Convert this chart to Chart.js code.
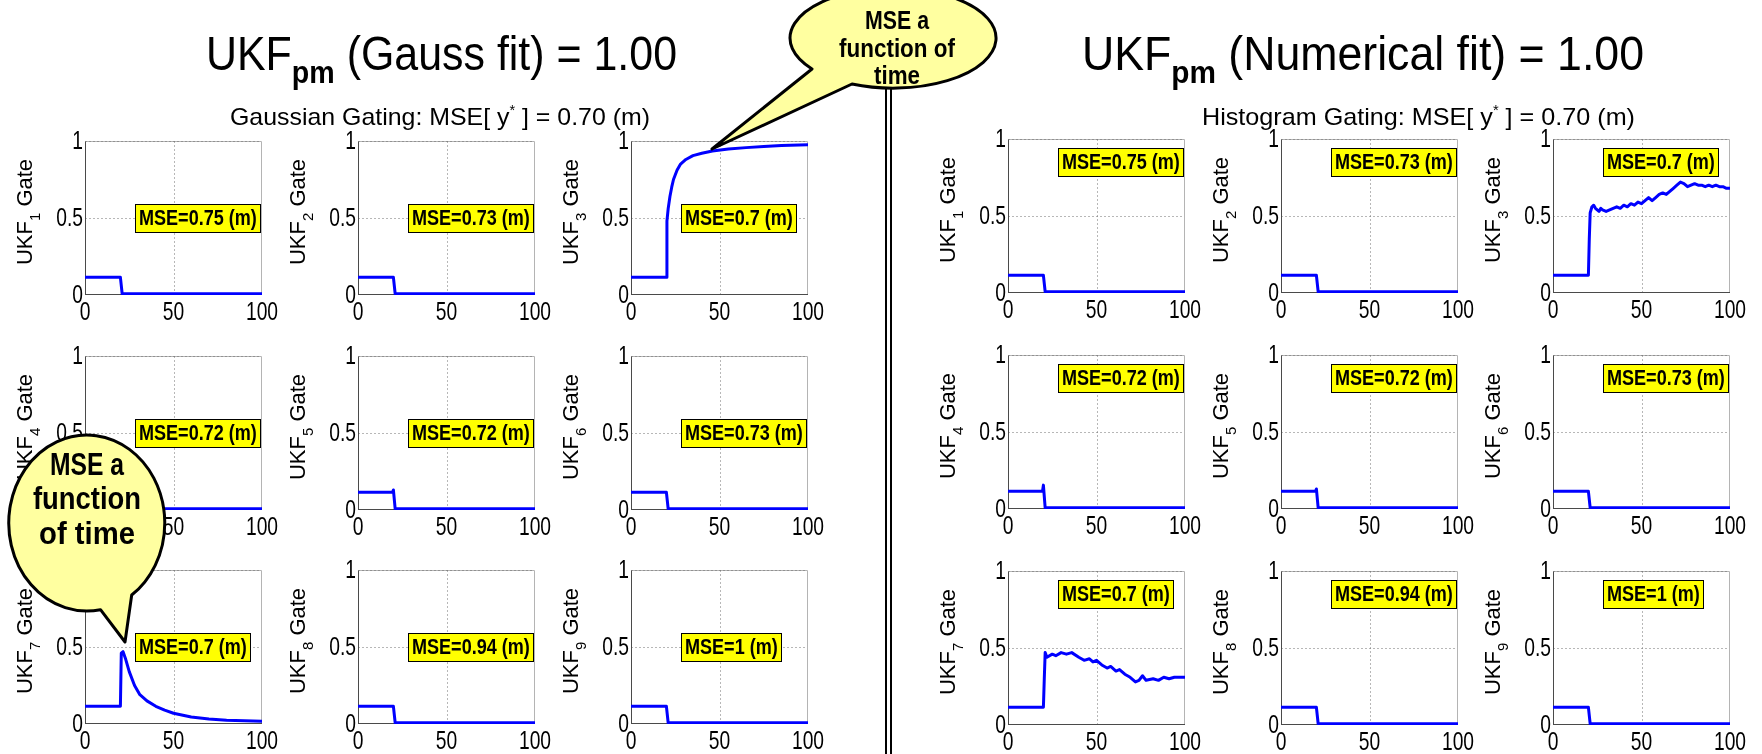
<!DOCTYPE html>
<html><head><meta charset="utf-8">
<script src="https://cdn.jsdelivr.net/npm/chart.js@4.4.1/dist/chart.umd.min.js"></script>
<style>
html,body{margin:0;padding:0;background:#fff}
body{width:1762px;height:754px;position:relative;overflow:hidden;font-family:'Liberation Sans',Arial,sans-serif}
canvas.sub{position:absolute}
svg.ov{position:absolute;left:0;top:0;z-index:5}
</style></head><body>
<script>
// ---------- data ----------
const X_TICKS=[0,50,100];
const Y_TICKS=[0,0.5,1];
const MSE_GAUSS=['0.75','0.73','0.7','0.72','0.72','0.73','0.7','0.94','1'];
const MSE_NUM=['0.75','0.73','0.7','0.72','0.72','0.73','0.7','0.94','1'];

// gate that switches off at t=20
const STEP_X=[0,20,21,100];
const STEP_Y=[0.115,0.115,0.008,0.008];
// gate with a small bump before switching off
const BUMP_X=[0,19.5,20,21,100];
const BUMP_Y=[0.115,0.115,0.13,0.008,0.008];
const BUMP2_Y=[0.115,0.115,0.155,0.008,0.008];

// Gaussian gating: UKF3 and UKF7
const G3_X=[0,20,20.3,21,22,23,24,26,28,31,35,40,46,55,65,75,85,100];
const G3_Y=[0.115,0.115,0.48,0.56,0.64,0.7,0.75,0.81,0.85,0.88,0.905,0.92,0.935,0.948,0.957,0.964,0.97,0.976];
const G7_X=[0,20,20.5,21.5,23,25,28,31,35,40,45,50,60,70,80,90,100];
const G7_Y=[0.115,0.115,0.46,0.47,0.42,0.34,0.25,0.19,0.15,0.115,0.09,0.07,0.045,0.032,0.025,0.021,0.018];

// Histogram (numerical) gating: UKF3 and UKF7
const N3_X=[0,20,20.5,21,22,23,24,25,26,27,28,30,32,34,36,38,40,42,44,46,48,50,52,54,56,58,60,62,64,66,68,70,72,74,76,78,80,82,84,86,88,90,92,94,96,98,100];
const N3_Y=[0.115,0.115,0.35,0.52,0.56,0.57,0.55,0.54,0.53,0.55,0.54,0.53,0.54,0.55,0.56,0.55,0.57,0.56,0.58,0.57,0.59,0.58,0.6,0.62,0.6,0.62,0.64,0.65,0.64,0.66,0.68,0.7,0.72,0.71,0.69,0.7,0.71,0.7,0.7,0.69,0.7,0.69,0.7,0.69,0.69,0.68,0.68];
const N7_X=[0,20,20.5,21,22,25,27,30,33,36,40,43,46,48,50,53,56,58,61,63,66,69,72,74,76,78,82,85,88,91,94,100];
const N7_Y=[0.115,0.115,0.3,0.47,0.44,0.46,0.45,0.47,0.46,0.47,0.44,0.42,0.43,0.41,0.42,0.39,0.37,0.38,0.35,0.36,0.33,0.31,0.28,0.29,0.32,0.29,0.3,0.29,0.31,0.3,0.31,0.31];

const GAUSS_SERIES=[[STEP_X,STEP_Y],[STEP_X,STEP_Y],[G3_X,G3_Y],[STEP_X,STEP_Y],[BUMP_X,BUMP_Y],[STEP_X,STEP_Y],[G7_X,G7_Y],[STEP_X,STEP_Y],[STEP_X,STEP_Y]];
const NUM_SERIES=[[STEP_X,STEP_Y],[STEP_X,STEP_Y],[N3_X,N3_Y],[BUMP_X,BUMP2_Y],[BUMP_X,BUMP_Y],[STEP_X,STEP_Y],[N7_X,N7_Y],[STEP_X,STEP_Y],[STEP_X,STEP_Y]];

// ---------- layout ----------
const PAD_L=85, PAD_T=20, PAD_R=25, PAD_B=36, PW=177, PH=154;
const CW=PAD_L+PW+PAD_R, CH=PAD_T+PH+PAD_B;
const LEFT_COLS=[85,358,631], LEFT_ROWS=[141,356,570];
const RIGHT_COLS=[1008,1281,1553], RIGHT_ROWS=[139,355,571];
const FONT="'Liberation Sans', Arial, sans-serif";
const TICK_SIZE=26, TICK_SX=0.74;

function drawNarrow(ctx,text,x,y,align,size,weight,sx){
  ctx.save();
  ctx.font=(weight?weight+' ':'')+size+'px '+FONT;
  ctx.textBaseline='middle'; ctx.textAlign='left';
  const w=ctx.measureText(text).width*sx;
  const x0=align==='center'?x-w/2:(align==='right'?x-w:x);
  ctx.translate(x0,y); ctx.scale(sx,1);
  ctx.fillStyle='#000'; ctx.fillText(text,0,0);
  ctx.restore();
  return w;
}

const subplotPlugin={
  id:'subplot',
  beforeDatasetsDraw(chart,args,o){
    const {ctx,chartArea:a,scales:{x,y}}=chart;
    ctx.save();
    ctx.lineWidth=1;
    const ln=(x1,y1,x2,y2)=>{ctx.beginPath();ctx.moveTo(x1,y1);ctx.lineTo(x2,y2);ctx.stroke();};
    const L=Math.round(a.left)+0.5, R=Math.round(a.right)-0.5, T=Math.round(a.top)+0.5, B=Math.round(a.bottom)-0.5;
    ctx.strokeStyle='#b4b4b4';
    ln(L,T,R,T); ln(R,T,R,B);
    ctx.strokeStyle='#6e6e6e'; ctx.setLineDash([1,3]);
    x.ticks.forEach(t=>{ if(t.value<=0||t.value>=100) return; const px=Math.round(x.getPixelForValue(t.value))+0.5; ln(px,T,px,B); });
    y.ticks.forEach(t=>{ if(t.value<=0) return; const py=Math.round(y.getPixelForValue(t.value))+0.5; ln(L,py,R,py); });
    ctx.setLineDash([]);
    ctx.strokeStyle='#4a4a4a';
    ln(L,T,L,B+0.5); ln(L,B,R+0.5,B);
    ctx.restore();
  },
  afterDatasetsDraw(chart,args,o){
    const {ctx,chartArea:a,scales:{x,y}}=chart;
    // tick labels from the scales' ticks
    x.ticks.forEach(t=>drawNarrow(ctx,String(t.value),x.getPixelForValue(t.value),a.bottom+18,'center',TICK_SIZE,'',TICK_SX));
    y.ticks.forEach(t=>drawNarrow(ctx,String(t.value),a.left-2,y.getPixelForValue(t.value)+1,'right',TICK_SIZE,'',TICK_SX));
    ctx.save();
    // MSE label box
    ctx.font='bold 22px '+FONT;
    const txt='MSE='+o.mse+' (m)';
    const tw=ctx.measureText(txt).width*0.82;
    const bx=Math.round(x.getPixelForValue(o.boxX))+0.5;
    const cy=y.getPixelForValue(o.boxY);
    const bw=Math.round(tw+7), bh=28;
    const by=Math.round(cy-bh/2)+0.5;
    ctx.fillStyle='#ffff00'; ctx.fillRect(bx,by,bw,bh);
    ctx.strokeStyle='#000'; ctx.lineWidth=1; ctx.strokeRect(bx,by,bw,bh);
    ctx.restore();
    drawNarrow(ctx,txt,bx+3.5,cy+1,'left',22,'bold',0.82);
    // y-axis title: UKF_n Gate
    ctx.save();
    ctx.fillStyle='#000';
    ctx.font='22px '+FONT;
    const w1=ctx.measureText('UKF').width;
    ctx.font='15px '+FONT;
    const w2=ctx.measureText(String(o.n)).width;
    ctx.font='22px '+FONT;
    const w3=ctx.measureText(' Gate').width;
    const total=w1+w2+w3;
    ctx.translate(a.left-53,(a.top+a.bottom)/2-6);
    ctx.rotate(-Math.PI/2);
    ctx.textBaseline='alphabetic'; ctx.textAlign='left';
    let sx=-total/2;
    ctx.fillText('UKF',sx,0); sx+=w1;
    ctx.font='15px '+FONT; ctx.fillText(String(o.n),sx,8); sx+=w2;
    ctx.font='22px '+FONT; ctx.fillText(' Gate',sx,0);
    ctx.restore();
  }
};

function makeChart(L,T,xs,ys,n,mse,boxY){
  const c=document.createElement('canvas');
  c.className='sub'; c.width=CW; c.height=CH;
  c.style.left=(L-PAD_L)+'px'; c.style.top=(T-PAD_T)+'px';
  c.style.width=CW+'px'; c.style.height=CH+'px';
  document.body.appendChild(c);
  const pts=xs.map((v,i)=>({x:v,y:ys[i]}));
  new Chart(c,{
    type:'line',
    data:{datasets:[{data:pts,borderColor:'#0000ff',borderWidth:3,pointRadius:0,tension:0,fill:false,borderJoinStyle:'round'}]},
    options:{
      responsive:false,animation:false,devicePixelRatio:1,
      layout:{padding:{left:0,right:PAD_R,top:PAD_T,bottom:0}},
      plugins:{legend:{display:false},tooltip:{enabled:false},subplot:{n:n,mse:mse,boxX:28.5,boxY:boxY}},
      scales:{
        x:{type:'linear',min:0,max:100,
           afterBuildTicks:s=>{s.ticks=X_TICKS.map(v=>({value:v}));},
           afterFit:s=>{s.height=PAD_B;},
           grid:{display:false},border:{display:false},
           ticks:{display:false}},
        y:{type:'linear',min:0,max:1,
           afterBuildTicks:s=>{s.ticks=Y_TICKS.map(v=>({value:v}));},
           afterFit:s=>{s.width=PAD_L;},
           grid:{display:false},border:{display:false},
           ticks:{display:false}}
      }
    },
    plugins:[subplotPlugin]
  });
}

for(let r=0;r<3;r++){for(let c=0;c<3;c++){
  const k=r*3+c;
  makeChart(LEFT_COLS[c],LEFT_ROWS[r],GAUSS_SERIES[k][0],GAUSS_SERIES[k][1],k+1,MSE_GAUSS[k],0.5);
  makeChart(RIGHT_COLS[c],RIGHT_ROWS[r],NUM_SERIES[k][0],NUM_SERIES[k][1],k+1,MSE_NUM[k],0.85);
}}
</script>
<svg class="ov" width="1762" height="754" xmlns="http://www.w3.org/2000/svg" style="white-space:pre">
  <g font-family="'Liberation Sans', Arial, sans-serif" fill="#000">
    <text x="206" y="70" font-size="48" textLength="471" lengthAdjust="spacingAndGlyphs">UKF<tspan font-size="32" font-weight="bold" dy="13">pm</tspan><tspan dy="-13"> (Gauss fit) = 1.00</tspan></text>
    <text x="1082" y="70" font-size="48" textLength="562" lengthAdjust="spacingAndGlyphs">UKF<tspan font-size="32" font-weight="bold" dy="13">pm</tspan><tspan dy="-13"> (Numerical fit) = 1.00</tspan></text>
    <text x="230" y="125" font-size="24" textLength="420" lengthAdjust="spacingAndGlyphs">Gaussian Gating:  MSE[ y<tspan font-size="14" dy="-10">*</tspan><tspan dy="10"> ] = 0.70 (m)</tspan></text>
    <text x="1202" y="125" font-size="24" textLength="433" lengthAdjust="spacingAndGlyphs">Histogram Gating: MSE[ y<tspan font-size="14" dy="-10">*</tspan><tspan dy="10"> ] = 0.70 (m)</tspan></text>
  </g>
  <g stroke="#000" stroke-width="2">
    <line x1="886" y1="60" x2="886" y2="754"/>
    <line x1="891" y1="60" x2="891" y2="754"/>
  </g>
  <path d="M 852 84 L 712 149 L 812 69 A 103 50 0 1 1 852 84 Z" fill="#ffffa0" stroke="#000" stroke-width="3" stroke-linejoin="round"/>
  <g font-family="'Liberation Sans', Arial, sans-serif" font-weight="bold" font-size="26" text-anchor="middle" fill="#000">
    <text x="897" y="29" textLength="64" lengthAdjust="spacingAndGlyphs">MSE a</text>
    <text x="897" y="57" textLength="116" lengthAdjust="spacingAndGlyphs">function of</text>
    <text x="897" y="84" textLength="46" lengthAdjust="spacingAndGlyphs">time</text>
  </g>
  <path d="M 131.7 595 L 125 642 L 100.5 609.7 A 78 88 0 1 1 131.7 595 Z" fill="#ffffa0" stroke="#000" stroke-width="3" stroke-linejoin="round"/>
  <g font-family="'Liberation Sans', Arial, sans-serif" font-weight="bold" font-size="31" text-anchor="middle" fill="#000">
    <text x="87" y="475" textLength="74" lengthAdjust="spacingAndGlyphs">MSE a</text>
    <text x="87" y="509" textLength="108" lengthAdjust="spacingAndGlyphs">function</text>
    <text x="87" y="544" textLength="96" lengthAdjust="spacingAndGlyphs">of time</text>
  </g>
</svg>
</body></html>
